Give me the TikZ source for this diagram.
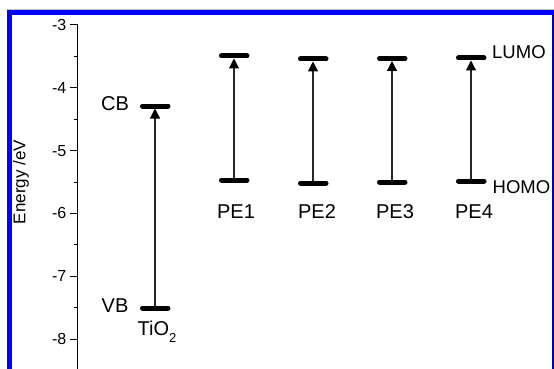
\documentclass[tikz,border=0pt]{standalone}
\usepackage{fontspec}
\setmainfont{Liberation Sans}
\usetikzlibrary{arrows.meta}
\definecolor{frameblue}{RGB}{0,0,255}
\definecolor{darkframe}{RGB}{0,0,170}
\tikzset{
  level/.style={line width=5pt, line cap=round},
  trans/.style={black!85, line width=1.1pt, -{Triangle[width=10pt,length=10pt,color=black]}, shorten >=2.5pt, shorten <=2.5pt},
  lab/.style={font=\fontsize{20}{22}\selectfont, inner sep=0pt},
  sidelab/.style={font=\fontsize{18.5}{20}\selectfont, inner sep=0pt, anchor=west},
  ticklab/.style={font=\fontsize{16}{17}\selectfont, inner sep=0pt, anchor=east},
}
\begin{document}
\begin{tikzpicture}[x=1pt,y=-1pt]
\useasboundingbox (0,0) rectangle (554,369);
\fill[white] (0,0) rectangle (554,369);
% frame
\draw[black!25, line width=0.8pt] (7,9) -- (554,9);
\draw[frameblue, line width=5pt] (9.5,369) -- (9.5,12.5) -- (554,12.5);
\draw[darkframe, line width=1.5pt] (553,15) -- (553,369);
% axis
\draw[line width=1pt] (77,24.5) -- (77,369);
\foreach \e/\lab in {3/-3,4/-4,5/-5,6/-6,7/-7,8/-8}{
  \pgfmathsetmacro{\yy}{25+(\e-3)*62.8}
  \draw[line width=1pt] (70,\yy) -- (77,\yy);
  \node[ticklab] at (66.5,\yy) {\lab};
}
\foreach \e in {3.5,4.5,5.5,6.5,7.5}{
  \pgfmathsetmacro{\yy}{25+(\e-3)*62.8}
  \draw[line width=1pt] (73.5,\yy) -- (77,\yy);
}
\node[font=\fontsize{17}{18}\selectfont, rotate=90, inner sep=0pt] (ylab) at (21,182) {Energy /eV};
% levels
\coordinate (cb) at (155,106);
\coordinate (vb) at (155,308);
\coordinate (l1) at (234,56);
\coordinate (h1) at (234,180);
\coordinate (l2) at (313,59);
\coordinate (h2) at (313,183);
\coordinate (l3) at (392,58.5);
\coordinate (h3) at (392,182);
\coordinate (l4) at (471,58);
\coordinate (h4) at (471,181);
\foreach \c in {cb,vb,l1,h1,l2,h2,l3,h3,l4,h4}{
  \draw[level] ([xshift=-12.5pt]\c) -- ([xshift=13pt]\c);
}
\draw[trans] (vb) -- (cb);
\draw[trans] (h1) -- (l1);
\draw[trans] (h2) -- (l2);
\draw[trans] (h3) -- (l3);
\draw[trans] (h4) -- (l4);
% labels
\node[lab] (cbl) at (115,104) {CB};
\node[lab] (vbl) at (115,306) {VB};
\node[lab, anchor=west] (tio) at (137.5,332) {TiO\raisebox{-0.35em}{\fontsize{13}{13}\selectfont 2}};
\node[lab] (pe1) at (236,212) {PE1};
\node[lab] (pe2) at (317,212) {PE2};
\node[lab] (pe3) at (395,212) {PE3};
\node[lab] (pe4) at (474,212) {PE4};
\node[sidelab] (lumo) at (492,52) {LUMO};
\node[sidelab] (homo) at (492.5,187) {HOMO};
\end{tikzpicture}
\end{document}
